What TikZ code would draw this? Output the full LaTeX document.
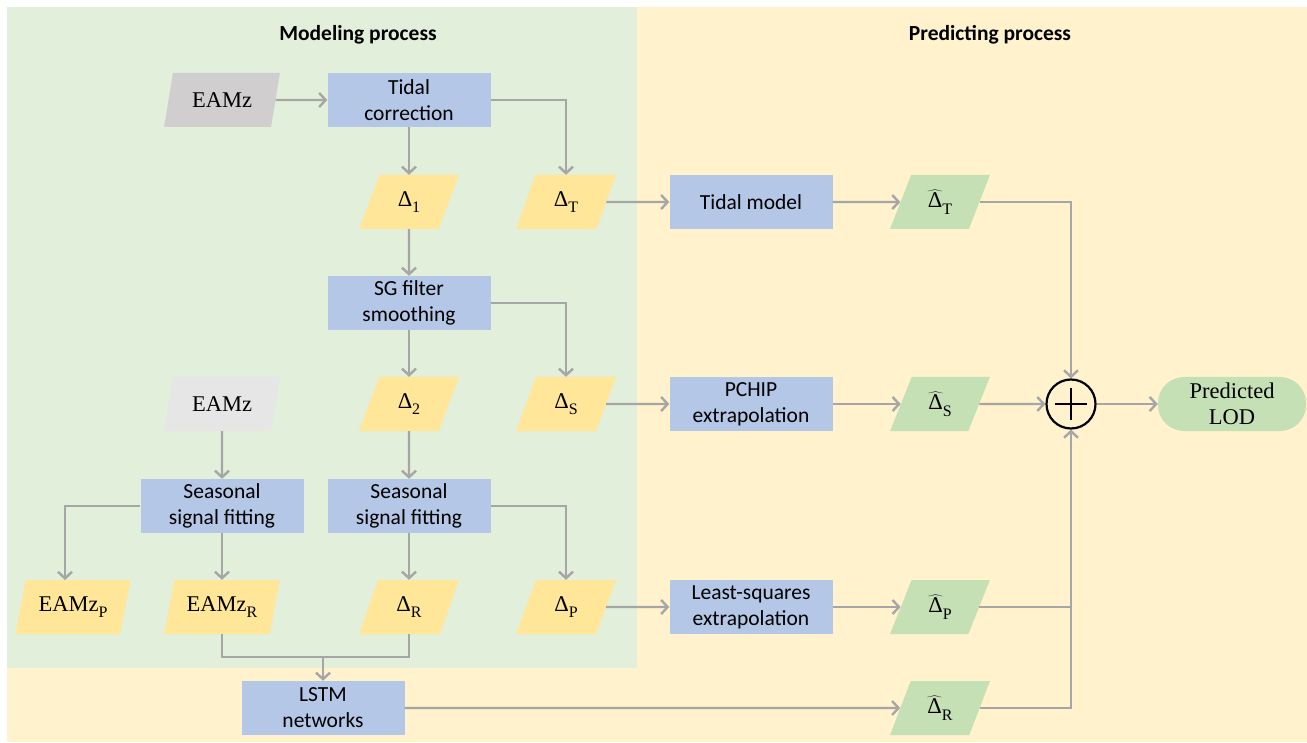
\documentclass[tikz,border=0pt]{standalone}
\usepackage{fontspec}
\setsansfont{Carlito}
\newfontfamily\serif{Liberation Serif}
\usetikzlibrary{shapes.geometric,arrows.meta,calc}
\definecolor{bggreen}{HTML}{E2EFDA}
\definecolor{bgyellow}{HTML}{FFF2CC}
\definecolor{boxblue}{HTML}{B4C7E7}
\definecolor{parayellow}{HTML}{FFE699}
\definecolor{paragreen}{HTML}{C5E0B4}
\definecolor{paragray}{HTML}{D0CECE}
\definecolor{paralgray}{HTML}{E7E6E6}
\definecolor{linegray}{HTML}{A6A6A6}
\newcommand{\lowsub}[1]{\raisebox{-0.28em}{\fontsize{16}{16}\selectfont #1}}
\newcommand{\dlsym}[1]{Δ\lowsub{#1}}
\newcommand{\dhatsym}[1]{$\widehat{\hbox{\serif Δ}}$\lowsub{#1}}
\tikzset{
  procbox/.style={rectangle, fill=boxblue, minimum width=163pt, minimum height=54pt, inner sep=0pt, align=center, font=\sffamily\fontsize{21.5}{26}\selectfont},
  pgram/.style={trapezium, trapezium left angle=70, trapezium right angle=110, trapezium stretches=true, minimum width=100pt, minimum height=54pt, inner sep=0pt, font=\serif\fontsize{22.5}{24}\selectfont},
  conn/.style={draw=linegray, line width=2.4pt},
  arr/.style={conn, -{Straight Barb[length=6.5pt,width=14pt]}},
  ttl/.style={font=\sffamily\bfseries\fontsize{21.5}{26}\selectfont},
}
\begin{document}
\begin{tikzpicture}[x=1pt,y=-1pt]
\useasboundingbox (0,0) rectangle (1307,743);
\fill[white] (0,0) rectangle (1307,743);
\fill[bgyellow] (7,7) rectangle (1307,742);
\fill[bggreen] (7,7) rectangle (637,668);

\node[ttl] (t1) at (358,35) {Modeling process};
\node[ttl] (t2) at (990,35) {Predicting process};

% row 1
\node[pgram, fill=paragray, minimum width=116pt] (eamz1) at (222,100) {EAMz};
\node[procbox] (tidal) at (409,100) {Tidal\\correction};
% row 2
\node[pgram, fill=parayellow] (d1) at (409,202) {\dlsym{1}};
\node[pgram, fill=parayellow] (dT) at (566,202) {\dlsym{T}};
\node[procbox] (tmodel) at (751,202) {Tidal model};
\node[pgram, fill=paragreen] (hT) at (940,202) {\dhatsym{T}};
% row 3
\node[procbox] (sg) at (409,303) {SG filter\\smoothing};
% row 4
\node[pgram, fill=paralgray, minimum width=116pt] (eamz2) at (222,404) {EAMz};
\node[pgram, fill=parayellow] (d2) at (409,404) {\dlsym{2}};
\node[pgram, fill=parayellow] (dS) at (566,404) {\dlsym{S}};
\node[procbox] (pchip) at (751,404) {PCHIP\\extrapolation};
\node[pgram, fill=paragreen] (hS) at (940,404) {\dhatsym{S}};
\node[circle, draw=black, line width=2.2pt, minimum size=49pt, inner sep=0pt] (plus) at (1071,404) {};
\draw[line width=2.6pt] ($(plus.center)+(-16,0)$) -- ($(plus.center)+(16,0)$);
\draw[line width=2.6pt] ($(plus.center)+(0,-16)$) -- ($(plus.center)+(0,16)$);
\node[rectangle, rounded corners=26pt, fill=paragreen, minimum width=148pt, minimum height=54pt, inner sep=0pt, align=center, font=\serif\fontsize{22.5}{26}\selectfont] (lod) at (1232,404) {Predicted\\LOD};
% row 5
\node[procbox] (seas1) at (222,506) {Seasonal\\signal fitting};
\node[procbox] (seas2) at (409,506) {Seasonal\\signal fitting};
% row 6
\node[pgram, fill=parayellow, minimum width=116pt] (eamzP) at (73,607) {EAMz\lowsub{P}};
\node[pgram, fill=parayellow, minimum width=116pt] (eamzR) at (222,607) {EAMz\lowsub{R}};
\node[pgram, fill=parayellow] (dR) at (409,607) {\dlsym{R}};
\node[pgram, fill=parayellow] (dP) at (566,607) {\dlsym{P}};
\node[procbox] (lsq) at (751,607) {Least-squares\\extrapolation};
\node[pgram, fill=paragreen] (hP) at (940,607) {\dhatsym{P}};
% row 7
\node[procbox] (lstm) at (323,708) {LSTM\\networks};
\node[pgram, fill=paragreen] (hR) at (940,708) {\dhatsym{R}};

\coordinate (j) at (323,657);
\coordinate (pin) at (65,580);

% connectors
\draw[arr] (eamz1) -- (tidal);
\draw[arr] (tidal) -- (d1);
\draw[arr] (tidal.east) -| (dT.north);
\draw[arr] (dT) -- (tmodel);
\draw[arr] (tmodel) -- (hT);
\draw[arr] (hT.east) -| (plus.north);
\draw[arr] (d1) -- (sg);
\draw[arr] (sg) -- (d2);
\draw[arr] (sg.east) -| (dS.north);
\draw[arr] (dS) -- (pchip);
\draw[arr] (pchip) -- (hS);
\draw[arr] (hS) -- (plus);
\draw[arr] (plus) -- (lod);
\draw[arr] (eamz2) -- (seas1);
\draw[arr] (d2) -- (seas2);
\draw[arr] (seas1.west) -| (pin);
\draw[arr] (seas1) -- (eamzR);
\draw[arr] (seas2) -- (dR);
\draw[arr] (seas2.east) -| (dP.north);
\draw[conn] (eamzR.south) |- (j);
\draw[conn] (dR.south) |- (j);
\draw[arr] (j) -- (lstm.north);
\draw[arr] (dP) -- (lsq);
\draw[arr] (lsq) -- (hP);
\draw[arr] (lstm) -- (hR);
\draw[conn] (hP.east) -| (plus.south);
\draw[arr] (hR.east) -| (plus.south);
\end{tikzpicture}
\end{document}
